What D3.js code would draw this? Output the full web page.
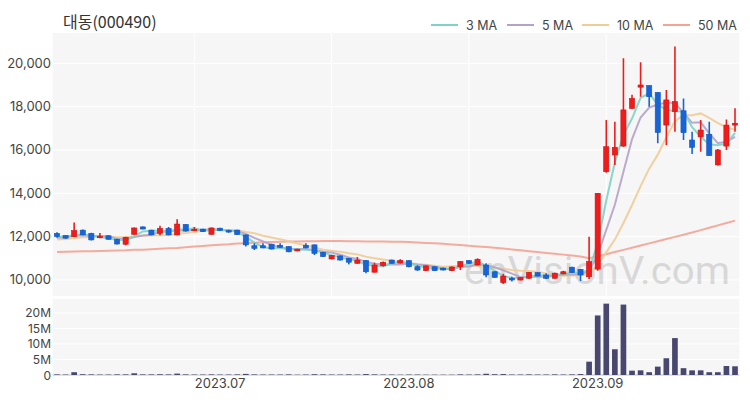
<!DOCTYPE html>
<html>
<head>
<meta charset="utf-8">
<script src="https://d3js.org/d3.v7.min.js"></script>
<style>
body { margin: 0; background: #fff; }
text { font-family: "Noto Sans CJK KR", "Noto Sans", sans-serif; }
.num { font-family: Inter, "Noto Sans", sans-serif; }
</style>
</head>
<body>
<div id="chart"></div>
<script>
var title = '대동(000490)'

// daily candles, mid June .. late Sept 2023
var opens = [12150,12050,12000,12300,12150,11950,12040,11880,11650,12110,
  12450,12300,12150,12380,12080,12560,12280,12350,12110,12390,
  12280,12300,12080,11580,11580,11650,11600,11540,11340,11600,
  11620,11280,10970,11110,11000,10770,10900,10360,10660,10920,
  10780,10890,10610,10430,10610,10550,10430,10610,10890,10690,
  10690,10380,9880,10080,10000,10080,10340,10230,10080,10280,
  10590,10490,10150,10500,15000,15770,16180,17920,18900,18970,
  18650,17150,17770,17810,16460,16610,16720,15310,16180,17150]
var highs = [12200,12080,12650,12330,12180,12170,12060,11900,11990,12420,
  12470,12320,12500,12450,12800,12580,12450,12370,12420,12410,
  12320,12320,12100,11690,11690,11670,11690,11560,11440,11690,
  11640,11300,11150,11130,11020,11060,10920,10800,10850,10940,
  10960,10910,10680,10670,10630,10570,10620,10870,10910,11000,
  10770,10400,10280,10150,10130,10370,10360,10310,10330,10420,
  10610,10510,12000,14020,17380,17300,20230,18550,20050,18990,
  18680,18770,20780,18380,16840,17380,17300,16050,17410,17930]
var lows = [11950,11900,11980,12060,11820,11930,11860,11640,11600,12090,
  12340,12060,12060,12060,12060,12240,12260,12210,12090,12270,
  12180,12080,11540,11380,11460,11410,11490,11280,11320,11460,
  11150,11060,10950,10900,10720,10750,10310,10340,10620,10750,
  10760,10590,10420,10410,10410,10440,10410,10460,10750,10670,
  10120,10100,9820,9930,9980,10060,10160,10050,10060,10260,
  10320,9950,10050,10420,14950,15310,16150,17900,18460,18000,
  16310,16230,16840,16460,15810,15920,15740,15280,16000,16840]
var closes = [12000,11930,12280,12080,11850,12020,11880,11660,11970,12400,
  12350,12080,12380,12080,12580,12260,12340,12230,12400,12290,
  12240,12100,11620,11460,11480,11430,11510,11300,11420,11480,
  11230,11080,11130,10920,10820,10920,10380,10690,10810,10770,
  10900,10610,10460,10650,10430,10460,10600,10850,10770,10950,
  10230,10120,10180,10000,10110,10350,10180,10080,10310,10380,
  10340,10230,10850,14000,16150,16120,17850,18380,19000,18460,
  16810,18310,18230,16800,16120,16920,15740,16000,17150,17230]
// volume in millions
var volumes = [0.2,0.15,0.9,0.25,0.2,0.15,0.15,0.2,0.2,0.55,0.2,0.2,0.25,0.2,0.45,0.2,0.15,0.15,0.2,0.15,
  0.15,0.2,0.35,0.2,0.15,0.15,0.15,0.2,0.1,0.15,0.25,0.2,0.15,0.15,0.2,0.15,0.3,0.2,0.15,0.15,
  0.1,0.15,0.15,0.1,0.1,0.1,0.1,0.2,0.15,0.2,0.4,0.25,0.3,0.15,0.15,0.2,0.15,0.15,0.2,0.15,
  0.2,0.3,4.3,19.2,23.0,8.3,22.7,1.4,1.5,0.9,2.7,5.4,11.9,2.2,1.5,1.5,0.9,0.9,2.9,2.8]
// closes before the first visible day (for the short averages)
var prevCloses = [11700,11750,11800,11850,11800,11850,11900,11950,12050]
// 50 day average
var ma50 = [11290,11300,11310,11320,11330,11340,11350,11360,11370,11390,
  11400,11420,11440,11460,11480,11510,11540,11570,11600,11630,
  11650,11680,11700,11720,11740,11750,11760,11770,11780,11790,
  11790,11800,11800,11800,11790,11790,11780,11770,11770,11760,
  11760,11750,11730,11710,11690,11670,11640,11610,11580,11550,
  11520,11490,11450,11410,11370,11330,11290,11250,11210,11170,
  11130,11080,11000,11090,11190,11290,11390,11490,11590,11690,
  11790,11890,11990,12090,12190,12300,12410,12520,12630,12740]

var priceTicks = [10000, 12000, 14000, 16000, 18000, 20000]
var volTicks = [0, 5, 10, 15, 20]
var monthTicks = [19, 41, 63]
var monthLabels = ['2023.07', '2023.08', '2023.09']
var gridDays = [16, 32, 48, 64]
var maNames = ['3 MA', '5 MA', '10 MA', '50 MA']
var maColors = ['#7dd3c6', '#b4a2c9', '#f0cc96', '#f4a394']
var upColor = '#f01c1c'
var downColor = '#1764d8'
var volColor = '#474770'

var w = 750
var h = 400
var left = 52.7, right = 739.3
var pTop = 33, pBottom = 296
var vTop = 299, vBottom = 375

var svg = d3.select('#chart').append('svg')
  .attr('width', w)
  .attr('height', h)

var days = d3.range(closes.length)
var x = d3.scaleBand().domain(days).range([left, right])
var cx = function (i) { return x(i) + x.bandwidth() / 2 }
var y = d3.scaleLinear().domain([9260, 21400]).range([pBottom, pTop])
var yv = d3.scaleLinear().domain([0, 24.5]).range([vBottom, vTop])

// moving averages
var all = prevCloses.concat(closes)
function movingAvg(n) {
  return days.map(function (i) {
    var k = i + prevCloses.length
    return d3.mean(all.slice(k - n + 1, k + 1))
  })
}
var maSeries = [movingAvg(3), movingAvg(5), movingAvg(10), ma50]

// panels
svg.append('rect').attr('x', left).attr('y', pTop)
  .attr('width', right - left).attr('height', pBottom - pTop).attr('fill', '#f6f6f6')
svg.append('rect').attr('x', left).attr('y', vTop)
  .attr('width', right - left).attr('height', vBottom - vTop + 1).attr('fill', '#f6f6f6')

svg.append('clipPath').attr('id', 'pclip').append('rect')
  .attr('x', left).attr('y', pTop).attr('width', right - left).attr('height', pBottom - pTop)

// grid
svg.selectAll('.pgrid').data(priceTicks).enter().append('line')
  .attr('x1', left).attr('x2', right)
  .attr('y1', function (d) { return y(d) }).attr('y2', function (d) { return y(d) })
  .attr('stroke', '#fff').attr('stroke-width', 1)
svg.selectAll('.dgrid').data(gridDays).enter().append('line')
  .attr('x1', function (d) { return cx(d) }).attr('x2', function (d) { return cx(d) })
  .attr('y1', pTop).attr('y2', pBottom)
  .attr('stroke', '#fff').attr('stroke-width', 1)
svg.selectAll('.vgrid').data(volTicks).enter().append('line')
  .attr('x1', left).attr('x2', right)
  .attr('y1', function (d) { return yv(d) }).attr('y2', function (d) { return yv(d) })
  .attr('stroke', function (d) { return d == 0 ? '#c8c8c8' : '#fff' }).attr('stroke-width', 1)

// watermark
svg.append('text')
  .attr('x', 464).attr('y', 284)
  .attr('textLength', 266).attr('lengthAdjust', 'spacingAndGlyphs')
  .attr('font-size', 39)
  .attr('fill', '#000').attr('opacity', 0.12)
  .style('font-family', 'Roboto, sans-serif')
  .text('enVisionV.com')

var plot = svg.append('g').attr('clip-path', 'url(#pclip)')

// MA lines
var line = d3.line()
  .x(function (d, i) { return cx(i) })
  .y(function (d) { return y(d) })

maSeries.slice().reverse().forEach(function (s, j) {
  var k = maSeries.length - 1 - j
  plot.append('path')
    .attr('d', line(s))
    .attr('fill', 'none')
    .attr('stroke', maColors[k])
    .attr('stroke-width', 2)
    .attr('opacity', 0.9)
})

// candles
var bw = x.bandwidth() * 0.6
var candle = plot.selectAll('.candle').data(days).enter().append('g')
candle.append('line')
  .attr('x1', function (i) { return cx(i) }).attr('x2', function (i) { return cx(i) })
  .attr('y1', function (i) { return y(highs[i]) }).attr('y2', function (i) { return y(lows[i]) })
  .attr('stroke', function (i) { return closes[i] >= opens[i] ? upColor : downColor })
  .attr('stroke-width', 1.6)
candle.append('rect')
  .attr('x', function (i) { return cx(i) - bw / 2 })
  .attr('width', bw)
  .attr('y', function (i) { return y(Math.max(opens[i], closes[i])) })
  .attr('height', function (i) { return Math.max(1.5, Math.abs(y(opens[i]) - y(closes[i]))) })
  .attr('fill', function (i) { return closes[i] >= opens[i] ? upColor : downColor })
  .attr('stroke', function (i) { return closes[i] >= opens[i] ? '#d01010' : '#1257c0' })
  .attr('stroke-width', 0.6)

// volume
var vbw = x.bandwidth() * 0.66
svg.selectAll('.vol').data(days).enter().append('rect')
  .attr('x', function (i) { return cx(i) - vbw / 2 })
  .attr('width', vbw)
  .attr('y', function (i) { return yv(volumes[i]) })
  .attr('height', function (i) { return yv(0) - yv(volumes[i]) })
  .attr('fill', volColor)

// axes labels
svg.selectAll('.ptick').data(priceTicks).enter().append('text')
  .attr('class', 'num')
  .attr('x', 51).attr('y', function (d) { return y(d) + 4.5 })
  .attr('text-anchor', 'end').attr('font-size', 13).attr('fill', '#444')
  .text(function (d) { return d3.format(',')(d) })
svg.selectAll('.vtick').data(volTicks).enter().append('text')
  .attr('class', 'num')
  .attr('x', 51).attr('y', function (d) { return yv(d) + 4.5 })
  .attr('text-anchor', 'end').attr('font-size', 12).attr('fill', '#444')
  .text(function (d) { return d == 0 ? '0' : d + 'M' })
svg.selectAll('.mtick').data(monthTicks).enter().append('text')
  .attr('class', 'num')
  .attr('x', function (d) { return cx(d) }).attr('y', 388)
  .attr('text-anchor', 'middle').attr('font-size', 13).attr('fill', '#444')
  .text(function (d, i) { return monthLabels[i] })

// title
svg.append('text')
  .attr('x', 63).attr('y', 28)
  .attr('font-size', 16).attr('fill', '#333')
  .text(title)

// legend
var legX = [431, 507, 582, 663]
var leg = svg.selectAll('.leg').data(maNames).enter().append('g')
  .attr('transform', function (d, i) { return 'translate(' + legX[i] + ',25)' })
leg.append('line').attr('x1', 0).attr('x2', 27).attr('y1', 0).attr('y2', 0)
  .attr('stroke', function (d, i) { return maColors[i] }).attr('stroke-width', 2)
leg.append('text').attr('class', 'num').attr('x', 35).attr('y', 4.5)
  .attr('font-size', 12.5).attr('fill', '#444')
  .text(function (d) { return d })
</script>
</body>
</html>
